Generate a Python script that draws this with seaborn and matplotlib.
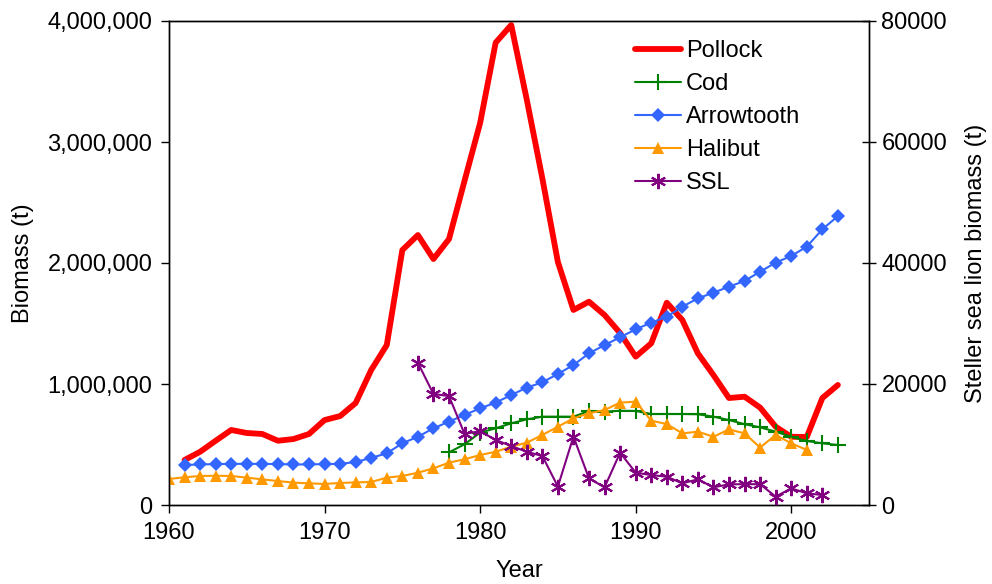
import matplotlib
matplotlib.use("Agg")
import matplotlib.pyplot as plt
from matplotlib.ticker import FuncFormatter, FixedLocator
import seaborn as sns

# Biomass series (t)
pollock_years = list(range(1961, 2004))
pollock = [372000, 440000, 531000, 620000, 595000, 587000, 531000, 545000, 587000, 702000,
           735000, 843000, 1116000, 1322000, 2107000, 2231000, 2033000, 2198000, 2680000, 3157000,
           3821000, 3967000, 3350000, 2700000, 2008000, 1612000, 1680000, 1570000, 1421000, 1226000,
           1336000, 1672000, 1529000, 1253000, 1074000, 884000, 895000, 805000, 647000, 564000,
           562000, 884000, 992000]

cod_years = list(range(1978, 2004))
cod = [435000, 502000, 598000, 634000, 675000, 708000, 730000, 730000, 730000, 777000,
       771000, 779000, 777000, 752000, 752000, 752000, 750000, 730000, 702000, 668000,
       642000, 606000, 564000, 529000, 510000, 496000]

arrow_years = list(range(1961, 2004))
arrowtooth = [330000, 335000, 338000, 340000, 340000, 340000, 338000, 335000, 335000, 338000,
              340000, 355000, 390000, 427000, 510000, 564000, 634000, 689000, 744000, 799000,
              846000, 909000, 970000, 1014000, 1083000, 1157000, 1253000, 1322000, 1386000, 1452000,
              1507000, 1556000, 1639000, 1708000, 1755000, 1804000, 1852000, 1928000, 2003000, 2058000,
              2135000, 2278000, 2388000]

halibut_years = list(range(1960, 2002))
halibut = [215000, 229000, 240000, 242000, 240000, 226000, 212000, 198000, 185000, 179000,
           174000, 182000, 187000, 190000, 226000, 240000, 267000, 303000, 350000, 378000,
           413000, 440000, 482000, 515000, 579000, 647000, 716000, 758000, 785000, 846000,
           854000, 697000, 669000, 592000, 606000, 564000, 625000, 592000, 475000, 579000,
           510000, 455000]

ssl_years = list(range(1976, 2003))
ssl = [23500, 18350, 18000, 11750, 12200, 10750, 9750, 8800, 8100, 3050,
       11300, 4400, 2920, 8650, 5350, 4950, 4680, 3580, 4240, 2920,
       3420, 3440, 3440, 1380, 2750, 1930, 1650]

x_ticks = [1960, 1970, 1980, 1990, 2000]
left_ticks = [0, 1000000, 2000000, 3000000, 4000000]
right_ticks = [0, 20000, 40000, 60000, 80000]

sns.set_style("white")
plt.rcParams["font.family"] = ["Liberation Sans", "DejaVu Sans"]
plt.rcParams.update({"text.color": "black", "axes.labelcolor": "black",
                     "xtick.color": "black", "ytick.color": "black"})
FS = 17

fig = plt.figure(figsize=(9.92, 5.84), dpi=100)
ax = fig.add_axes([169 / 992, 1 - 505 / 584, 700 / 992, 484 / 584])
ax2 = ax.twinx()

sns.lineplot(x=pollock_years, y=pollock, ax=ax, color="#FF0000", lw=4.2,
             label="Pollock", zorder=3)
sns.lineplot(x=cod_years, y=cod, ax=ax, color="#008000", lw=1.5, marker="+",
             markersize=11, markeredgewidth=1.5, markeredgecolor="#008000",
             label="Cod", zorder=4)
sns.lineplot(x=arrow_years, y=arrowtooth, ax=ax, color="#3366FF", lw=1.5, marker="D",
             markersize=7, markeredgewidth=0, label="Arrowtooth", zorder=4)
sns.lineplot(x=halibut_years, y=halibut, ax=ax, color="#FF9900", lw=1.5, marker="^",
             markersize=9, markeredgewidth=0, label="Halibut", zorder=4)
sns.lineplot(x=ssl_years, y=ssl, ax=ax2, color="#800080", lw=1.5, marker=(6, 2, 0),
             markersize=11, markeredgewidth=1.5, markeredgecolor="#800080",
             label="SSL", zorder=5)

ax.set_xlim(1960, 2005)
ax.set_ylim(0, 4000000)
ax2.set_ylim(0, 80000)
ax.xaxis.set_major_locator(FixedLocator(x_ticks))
ax.set_xticklabels([str(t) for t in x_ticks])
ax.yaxis.set_major_locator(FixedLocator(left_ticks))
ax.yaxis.set_major_formatter(FuncFormatter(lambda v, p: f"{int(v):,}"))
ax2.yaxis.set_major_locator(FixedLocator(right_ticks))
ax2.yaxis.set_major_formatter(FuncFormatter(lambda v, p: f"{int(v)}"))

for a in (ax, ax2):
    for s in a.spines.values():
        s.set_color("black")
        s.set_linewidth(1.0)
    a.grid(False)

ax.tick_params(axis="both", labelsize=FS, colors="black", direction="out",
               length=6, width=1, pad=6, left=True, bottom=True)
ax2.tick_params(axis="y", labelsize=FS, colors="black", direction="inout",
                length=10, width=1, pad=4, right=True)

ax.set_xlabel("Year", fontsize=FS, labelpad=12)
ax.set_ylabel("Biomass (t)", fontsize=FS, labelpad=10)
ax2.set_ylabel("Steller sea lion biomass (t)", fontsize=FS, labelpad=13)

h1, l1 = ax.get_legend_handles_labels()
h2, l2 = ax2.get_legend_handles_labels()
ax.get_legend().remove()
ax2.get_legend().remove()
ax2.legend(h1 + h2, l1 + l2, loc="upper left", bbox_to_anchor=(635 / 992, 1 - 40 / 584),
           bbox_transform=fig.transFigure, frameon=False, fontsize=FS,
           handlelength=1.95, handletextpad=0.2, labelspacing=0.47, borderaxespad=0,
           borderpad=0)

fig.savefig("out.png", dpi=100)
